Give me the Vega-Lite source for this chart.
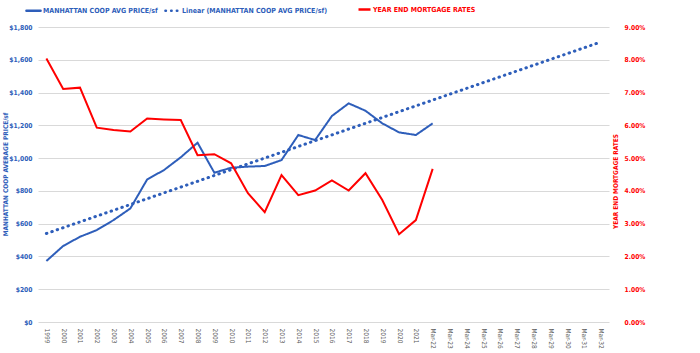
{
  "$schema": "https://vega.github.io/schema/vega-lite/v6.json",
  "width": 571,
  "height": 295,
  "autosize": {"type": "none"},
  "padding": {"left": 38, "top": 27, "right": 91, "bottom": 31},
  "background": "white",
  "config": {
    "font": "Liberation Sans Narrow, DejaVu Sans Condensed, sans-serif",
    "view": {"stroke": null},
    "axisY": {
      "grid": true,
      "gridColor": "#d9d9d9",
      "gridWidth": 1,
      "domain": false,
      "ticks": false,
      "labelOverlap": false,
      "labelFontSize": 6.7,
      "labelFontWeight": "bold",
      "titleFontSize": 6.5,
      "titleFontWeight": "bold",
      "titleAlign": "center",
      "titleBaseline": "middle",
      "titleAngle": 270
    }
  },
  "datasets": {
    "main": [
      {"period": "1999", "price": 372, "rate": 0.0804},
      {"period": "2000", "price": 464, "rate": 0.0711},
      {"period": "2001", "price": 520, "rate": 0.0715},
      {"period": "2002", "price": 561, "rate": 0.0593},
      {"period": "2003", "price": 622, "rate": 0.0586},
      {"period": "2004", "price": 693, "rate": 0.0581},
      {"period": "2005", "price": 870, "rate": 0.0621},
      {"period": "2006", "price": 927, "rate": 0.0618},
      {"period": "2007", "price": 1005, "rate": 0.0616},
      {"period": "2008", "price": 1094, "rate": 0.0509},
      {"period": "2009", "price": 911, "rate": 0.0512},
      {"period": "2010", "price": 941, "rate": 0.0484},
      {"period": "2011", "price": 948, "rate": 0.0393},
      {"period": "2012", "price": 952, "rate": 0.0335},
      {"period": "2013", "price": 988, "rate": 0.0448},
      {"period": "2014", "price": 1141, "rate": 0.0387},
      {"period": "2015", "price": 1110, "rate": 0.0401},
      {"period": "2016", "price": 1257, "rate": 0.0432},
      {"period": "2017", "price": 1334, "rate": 0.0401},
      {"period": "2018", "price": 1289, "rate": 0.0454},
      {"period": "2019", "price": 1212, "rate": 0.0372},
      {"period": "2020", "price": 1157, "rate": 0.0268},
      {"period": "2021", "price": 1141, "rate": 0.0311},
      {"period": "Mar-22", "price": 1212, "rate": 0.0467}
    ],
    "trend": [
      {"period": "1999", "trend": 540},
      {"period": "Mar-32", "trend": 1708}
    ]
  },
  "encoding": {
    "x": {
      "field": "period",
      "type": "ordinal",
      "sort": null,
      "scale": {
        "type": "point",
        "padding": 0.5,
        "domain": ["1999","2000","2001","2002","2003","2004","2005","2006","2007","2008","2009","2010","2011","2012","2013","2014","2015","2016","2017","2018","2019","2020","2021","Mar-22","Mar-23","Mar-24","Mar-25","Mar-26","Mar-27","Mar-28","Mar-29","Mar-30","Mar-31","Mar-32"]
      },
      "axis": {
        "title": null,
        "labelAngle": 90,
        "labelAlign": "left",
        "labelBaseline": "middle",
        "labelFontSize": 6.5,
        "labelColor": "#595959",
        "labelPadding": 6,
        "labelOverlap": false,
        "domain": false,
        "ticks": false,
        "grid": false
      }
    }
  },
  "layer": [
    {
      "layer": [
        {
          "data": {"name": "main"},
          "mark": {"type": "line", "color": "#2e5eba", "strokeWidth": 2},
          "encoding": {
            "y": {
              "field": "price",
              "type": "quantitative",
              "scale": {"domain": [0, 1800]},
              "axis": {
                "title": "MANHATTAN COOP AVERAGE PRICE/sf",
                "values": [0, 200, 400, 600, 800, 1000, 1200, 1400, 1600, 1800],
                "format": "$,.0f",
                "labelColor": "#2e5eba",
                "labelPadding": 6,
                "titleColor": "#2e5eba",
                "titleX": -33,
                "titleY": 147
              }
            },
            "strokeDash": {
              "datum": "MANHATTAN COOP AVG PRICE/sf",
              "scale": {
                "domain": ["MANHATTAN COOP AVG PRICE/sf", "Linear (MANHATTAN COOP AVG PRICE/sf)"],
                "range": [[1, 0], [0.5, 5.2]]
              },
              "legend": {
                "title": null,
                "orient": "none",
                "direction": "horizontal",
                "legendX": -13,
                "legendY": -25,
                "symbolType": "stroke",
                "symbolSize": 200,
                "symbolStrokeWidth": 2.5,
                "symbolStrokeColor": "#2e5eba",
                "labelColor": "#2e5eba",
                "labelFontSize": 7,
                "labelFontWeight": "bold",
                "labelOffset": 1,
                "columnPadding": 2,
                "labelLimit": 300,
                "encode": {"symbols": {"update": {"strokeCap": {"value": "round"}}}}
              }
            }
          }
        },
        {
          "data": {"name": "trend"},
          "mark": {"type": "line", "color": "#2e5eba", "strokeWidth": 3, "strokeCap": "round"},
          "encoding": {
            "y": {
              "field": "trend",
              "type": "quantitative",
              "axis": {
                "title": "MANHATTAN COOP AVERAGE PRICE/sf",
                "values": [0, 200, 400, 600, 800, 1000, 1200, 1400, 1600, 1800],
                "format": "$,.0f",
                "labelColor": "#2e5eba",
                "labelPadding": 6,
                "titleColor": "#2e5eba",
                "titleX": -33,
                "titleY": 147
              }
            },
            "strokeDash": {"datum": "Linear (MANHATTAN COOP AVG PRICE/sf)"}
          }
        }
      ]
    },
    {
      "data": {"name": "main"},
      "mark": {"type": "line", "strokeWidth": 2},
      "encoding": {
        "y": {
          "field": "rate",
          "type": "quantitative",
          "scale": {"domain": [0, 0.09]},
          "axis": {
            "orient": "right",
            "title": "YEAR END MORTGAGE RATES",
            "values": [0, 0.01, 0.02, 0.03, 0.04, 0.05, 0.06, 0.07, 0.08, 0.09],
            "format": ".2%",
            "grid": false,
            "labelColor": "#ff0000",
            "labelPadding": 15,
            "titleColor": "#ff0000",
            "titleX": 6,
            "titleY": 154
          }
        },
        "color": {
          "datum": "YEAR END MORTGAGE RATES",
          "scale": {"domain": ["YEAR END MORTGAGE RATES"], "range": ["#ff0000"]},
          "legend": {
            "title": null,
            "orient": "none",
            "direction": "horizontal",
            "legendX": 319,
            "legendY": -25,
            "symbolType": "stroke",
            "symbolSize": 144,
            "symbolStrokeWidth": 2.5,
            "labelColor": "#ff0000",
            "labelFontSize": 7,
            "labelFontWeight": "bold",
            "labelOffset": 1,
            "labelLimit": 300
          }
        }
      }
    }
  ],
  "resolve": {"scale": {"y": "independent"}}
}
